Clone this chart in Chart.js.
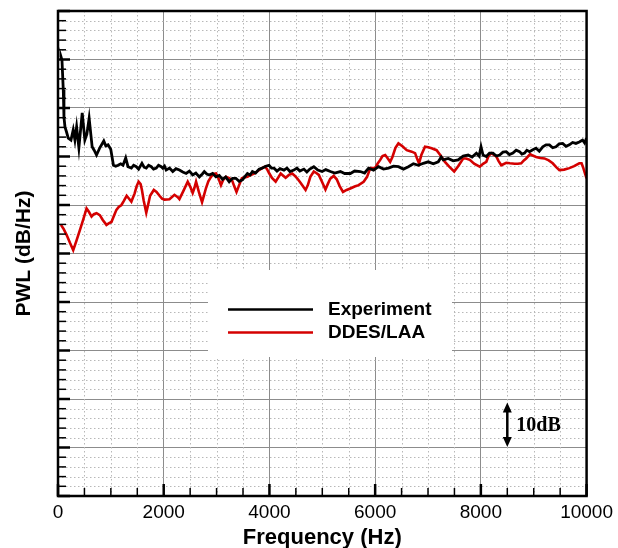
<!DOCTYPE html>
<html>
<head>
<meta charset="utf-8">
<script src="https://cdn.jsdelivr.net/npm/chart.js@4.4.0/dist/chart.umd.min.js"></script>
<style>
  html, body { margin: 0; padding: 0; background: #fff; }
</style>
</head>
<body>
<canvas id="chart-pwl" width="618" height="548"></canvas>
<script>
// Experiment (measured) spectrum, Hz / dB
const expFreq = [
  38, 56, 75, 100, 113, 132, 160, 194, 245, 288,
  320, 352, 395, 458, 508, 546, 589, 646, 684, 729,
  791, 866, 904, 947, 998, 1049, 1092, 1136, 1186, 1230,
  1281, 1324, 1388, 1431, 1482, 1525, 1588, 1629, 1670, 1714,
  1765, 1808, 1859, 1902, 1953, 1983, 2015, 2047, 2109, 2171,
  2232, 2297, 2360, 2424, 2486, 2548, 2608, 2674, 2731, 2768,
  2815, 2862, 2925, 2989, 3051, 3113, 3173, 3239, 3301, 3365,
  3427, 3490, 3540, 3584, 3634, 3678, 3738, 3804, 3861, 3930,
  3993, 4040, 4087, 4143, 4200, 4275, 4331, 4388, 4463, 4520,
  4576, 4652, 4708, 4764, 4840, 4915, 4996, 5066, 5154, 5235,
  5343, 5424, 5531, 5612, 5719, 5800, 5876, 5970, 6064, 6158,
  6252, 6346, 6441, 6535, 6629, 6723, 6817, 6911, 7005, 7100,
  7194, 7250, 7288, 7382, 7476, 7570, 7665, 7759, 7834, 7915,
  7966, 8003, 8041, 8103, 8163, 8229, 8292, 8355, 8418, 8480,
  8540, 8606, 8668, 8732, 8776, 8826, 8870, 8921, 8983, 9045,
  9105, 9171, 9233, 9297, 9359, 9421, 9482, 9548, 9610, 9674,
  9736, 9798, 9862, 9924, 9962, 10000
];
const expLevel = [
  90.5, 90.6, 89.9, 83.7, 78.1, 76.1, 75.1, 73.8, 73.4, 75.5,
  73.4, 76.1, 71.8, 79.0, 73.4, 74.6, 77.9, 72.0, 71.3, 70.3,
  71.8, 73.2, 72.2, 72.4, 71.5, 68.2, 68.0, 68.2, 68.5, 68.2,
  69.7, 67.9, 67.6, 68.2, 67.9, 67.4, 68.6, 67.8, 67.6, 68.2,
  67.9, 67.4, 67.6, 68.2, 67.9, 67.6, 68.0, 67.2, 67.6, 66.9,
  67.5, 67.2, 66.8, 66.5, 67.0, 66.2, 66.6, 65.8, 66.4, 66.9,
  66.4, 66.2, 66.5, 65.8, 66.1, 65.3, 65.8, 64.8, 65.5, 65.5,
  64.9, 65.2, 65.9, 66.5, 66.2, 66.9, 66.6, 67.4, 67.6, 68.0,
  68.2, 67.6, 67.6, 67.0, 67.5, 67.2, 67.6, 66.9, 67.2, 67.6,
  67.0, 67.4, 66.8, 67.4, 67.9, 67.2, 66.9, 67.3, 66.9, 66.6,
  66.9, 66.5, 66.5, 67.0, 66.9, 66.6, 67.6, 67.2, 67.9, 67.4,
  67.6, 68.0, 67.9, 67.4, 67.9, 68.5, 68.2, 68.6, 68.9, 68.5,
  68.9, 69.9, 69.3, 69.6, 69.1, 69.3, 70.1, 70.3, 69.9, 70.7,
  70.1, 72.0, 70.3, 70.0, 70.7, 70.7, 70.1, 70.3, 70.9, 71.0,
  70.4, 70.7, 71.3, 71.0, 70.5, 70.7, 71.3, 71.0, 71.4, 71.7,
  71.1, 72.0, 72.4, 72.4, 71.8, 72.0, 72.6, 72.7, 72.1, 72.4,
  72.9, 72.7, 73.0, 73.4, 72.8, 73.8
];

// DDES/LAA (simulation) spectrum, Hz / dB
const lesFreq = [
  56, 104, 164, 226, 288, 348, 414, 480, 540, 584,
  635, 678, 729, 791, 847, 917, 960, 1011, 1055, 1105,
  1149, 1200, 1243, 1299, 1337, 1388, 1450, 1488, 1525, 1563,
  1588, 1620, 1670, 1704, 1742, 1813, 1864, 1921, 1968, 2015,
  2109, 2203, 2266, 2297, 2373, 2454, 2505, 2548, 2580, 2612,
  2665, 2725, 2759, 2800, 2844, 2895, 2938, 2989, 3032, 3083,
  3126, 3177, 3230, 3290, 3333, 3377, 3427, 3478, 3531, 3584,
  3644, 3710, 3757, 3804, 3861, 3917, 3955, 3993, 4049, 4118,
  4162, 4213, 4256, 4307, 4369, 4431, 4473, 4525, 4595, 4684,
  4727, 4774, 4840, 4887, 4934, 4990, 5060, 5103, 5150, 5216,
  5273, 5329, 5392, 5461, 5531, 5612, 5687, 5782, 5847, 5908,
  6002, 6045, 6096, 6139, 6190, 6233, 6284, 6327, 6384, 6440,
  6516, 6597, 6691, 6755, 6789, 6830, 6874, 6943, 7005, 7068,
  7162, 7231, 7320, 7401, 7495, 7570, 7665, 7721, 7791, 7872,
  7979, 8041, 8103, 8145, 8198, 8239, 8292, 8333, 8386, 8480,
  8550, 8638, 8700, 8763, 8813, 8857, 8932, 8983, 9045, 9124,
  9203, 9284, 9359, 9425, 9485, 9576, 9674, 9764, 9862, 9905,
  9933, 9962, 10000
];
const lesLevel = [
  55.9, 55.1, 53.8, 52.2, 50.7, 52.6, 54.8, 57.1, 59.3, 58.6,
  57.6, 58.1, 58.3, 57.9, 56.9, 55.9, 56.2, 56.5, 57.7, 59.0,
  59.6, 60.0, 60.8, 61.9, 61.4, 60.7, 62.4, 63.9, 64.8, 64.3,
  63.1, 61.0, 58.4, 60.0, 61.9, 63.1, 62.7, 61.9, 61.3, 61.1,
  61.2, 62.1, 61.6, 61.2, 62.9, 64.8, 63.7, 62.5, 63.5, 64.8,
  62.7, 60.6, 61.9, 63.5, 64.9, 65.8, 66.4, 66.5, 65.6, 64.1,
  65.2, 65.8, 65.6, 65.2, 63.9, 62.7, 64.1, 65.5, 65.7, 65.8,
  66.2, 66.5, 66.8, 67.2, 67.6, 67.9, 67.4, 66.6, 65.6, 64.8,
  65.6, 66.5, 66.1, 65.6, 66.2, 66.5, 66.1, 65.5, 64.5, 63.1,
  64.1, 65.8, 66.9, 66.6, 66.2, 64.9, 63.2, 64.3, 65.4, 66.0,
  65.3, 63.9, 62.7, 63.1, 63.4, 63.8, 64.1, 64.8, 65.8, 67.6,
  67.6, 68.5, 69.3, 70.1, 70.3, 69.7, 68.9, 69.9, 71.8, 72.7,
  72.1, 71.3, 71.0, 70.7, 69.7, 68.6, 70.3, 72.0, 71.9, 71.7,
  71.3, 70.3, 68.9, 67.9, 66.9, 68.0, 69.6, 69.6, 69.3, 68.5,
  67.9, 68.5, 68.9, 70.1, 70.7, 70.4, 70.0, 69.1, 68.2, 68.7,
  68.6, 68.5, 68.5, 68.6, 69.2, 69.6, 70.5, 70.2, 69.9, 69.7,
  69.6, 69.2, 68.6, 67.8, 67.2, 67.3, 67.6, 68.0, 68.6, 68.6,
  67.8, 66.8, 65.5
];

const seriesNames = ['Experiment', 'DDES/LAA'];
const seriesColors = ['#000000', '#d40000'];
const scaleBarLabel = '10dB';

const SANS = 'Arial, "Liberation Sans", Helvetica, sans-serif';
const SERIF = '"Times New Roman", "Liberation Serif", serif';

function toPoints(xs, ys) {
  return xs.map((x, i) => ({ x: x, y: ys[i] }));
}

function strokeLine(ctx, x1, y1, x2, y2) {
  ctx.beginPath();
  ctx.moveTo(x1, y1);
  ctx.lineTo(x2, y2);
  ctx.stroke();
}

// dotted minor grid, inward ticks, frame, legend box and the 10 dB scale bar
const plotDecor = {
  id: 'plotDecor',
  beforeDatasetsDraw(chart) {
    const { ctx, chartArea: a, scales: { x, y } } = chart;
    ctx.save();
    ctx.strokeStyle = '#b8b8b8';
    ctx.lineWidth = 1;
    ctx.setLineDash([1.5, 2.5]);
    for (let v = 500; v < 10000; v += 500) {
      if (v % 2000 === 0) continue;
      const px = Math.round(x.getPixelForValue(v)) + 0.5;
      strokeLine(ctx, px, a.top, px, a.bottom);
    }
    for (let v = 2; v < 100; v += 2) {
      if (v % 10 === 0) continue;
      const py = Math.round(y.getPixelForValue(v)) + 0.5;
      strokeLine(ctx, a.left, py, a.right, py);
    }
    ctx.restore();
  },
  afterDatasetsDraw(chart) {
    const { ctx, chartArea: a, scales: { x, y } } = chart;
    ctx.save();

    // legend
    ctx.fillStyle = '#fff';
    ctx.fillRect(208, 270, 244, 87);
    ctx.lineWidth = 2.5;
    ctx.strokeStyle = seriesColors[0];
    strokeLine(ctx, 228, 309.5, 313, 309.5);
    ctx.strokeStyle = seriesColors[1];
    strokeLine(ctx, 228, 332.5, 313, 332.5);
    ctx.fillStyle = '#000';
    ctx.font = 'bold 19px ' + SANS;
    ctx.textBaseline = 'middle';
    ctx.textAlign = 'left';
    ctx.fillText(seriesNames[0], 328, 310);
    ctx.fillText(seriesNames[1], 328, 333);

    // 10 dB bar
    const ax = x.getPixelForValue(8500);
    const y1 = y.getPixelForValue(19.3);
    const y2 = y.getPixelForValue(10.1);
    ctx.strokeStyle = '#000';
    ctx.lineWidth = 2.5;
    strokeLine(ctx, ax, y1 + 6, ax, y2 - 6);
    ctx.beginPath();
    ctx.moveTo(ax, y1); ctx.lineTo(ax - 4.5, y1 + 10); ctx.lineTo(ax + 4.5, y1 + 10); ctx.closePath();
    ctx.moveTo(ax, y2); ctx.lineTo(ax - 4.5, y2 - 10); ctx.lineTo(ax + 4.5, y2 - 10); ctx.closePath();
    ctx.fill();
    ctx.font = 'bold 20px ' + SERIF;
    ctx.fillText(scaleBarLabel, ax + 9, (y1 + y2) / 2 + 1);

    // inward ticks
    ctx.strokeStyle = '#000';
    for (let v = 0; v <= 10000; v += 500) {
      const major = v % 2000 === 0;
      ctx.lineWidth = major ? 2.5 : 1.5;
      const px = x.getPixelForValue(v);
      strokeLine(ctx, px, a.bottom, px, a.bottom - (major ? 12 : 8));
    }
    for (let v = 0; v <= 100; v += 2) {
      const major = v % 10 === 0;
      ctx.lineWidth = major ? 2.5 : 1.5;
      const py = y.getPixelForValue(v);
      strokeLine(ctx, a.left, py, a.left + (major ? 12 : 8), py);
    }

    // frame
    ctx.lineWidth = 2.5;
    ctx.strokeRect(a.left, a.top, a.right - a.left, a.bottom - a.top);
    ctx.restore();
  }
};

new Chart(document.getElementById('chart-pwl').getContext('2d'), {
  type: 'line',
  data: {
    datasets: [
      {
        label: seriesNames[0],
        data: toPoints(expFreq, expLevel),
        borderColor: seriesColors[0],
        borderWidth: 2.8,
        pointRadius: 0,
        tension: 0,
        fill: false
      },
      {
        label: seriesNames[1],
        data: toPoints(lesFreq, lesLevel),
        borderColor: seriesColors[1],
        borderWidth: 2.6,
        pointRadius: 0,
        tension: 0,
        fill: false
      }
    ]
  },
  options: {
    responsive: false,
    animation: false,
    layout: { padding: { top: 11, right: 29, left: 0, bottom: 0 } },
    plugins: {
      legend: { display: false },
      tooltip: { enabled: false }
    },
    scales: {
      x: {
        type: 'linear',
        min: 0,
        max: 10000,
        ticks: {
          stepSize: 2000,
          color: '#000',
          font: { family: SANS, size: 19 },
          padding: 5,
          maxRotation: 0,
          callback: v => String(v)
        },
        grid: { color: '#8c8c8c', lineWidth: 1, drawTicks: false },
        border: { display: false },
        title: {
          display: true,
          text: 'Frequency (Hz)',
          color: '#000',
          font: { family: SANS, size: 22, weight: 'bold' },
          padding: { top: 0, bottom: -3 }
        },
        afterFit: s => { s.height = 52; }
      },
      y: {
        type: 'linear',
        min: 0,
        max: 100,
        ticks: { stepSize: 10, display: false },
        grid: { color: '#8c8c8c', lineWidth: 1, drawTicks: false },
        border: { display: false },
        title: {
          display: true,
          text: 'PWL (dB/Hz)',
          color: '#000',
          font: { family: SANS, size: 21, weight: 'bold' },
          padding: { top: 12, bottom: 0 }
        },
        afterFit: s => { s.width = 58; }
      }
    }
  },
  plugins: [plotDecor]
});
</script>
</body>
</html>
